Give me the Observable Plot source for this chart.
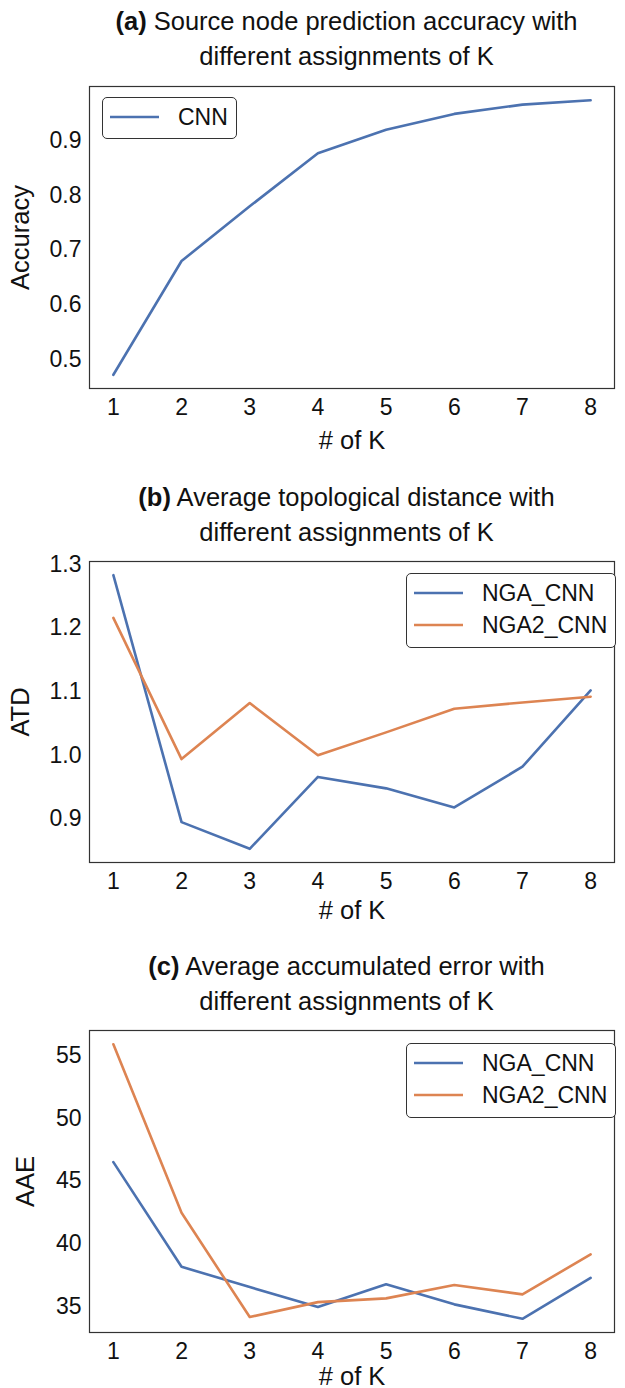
<!DOCTYPE html>
<html><head><meta charset="utf-8">
<script src="https://cdn.jsdelivr.net/npm/d3@7"></script>
<script src="https://cdn.jsdelivr.net/npm/@observablehq/plot@0.6"></script>
<style>
body{margin:0;background:#fff;font-family:"Liberation Sans",Arial,sans-serif;color:#111;}
#root{position:relative;width:625px;height:1388px;overflow:hidden;background:#fff;}
.title{position:absolute;left:75px;width:543px;text-align:center;font-size:25.5px;line-height:35px;white-space:nowrap;}
.title b{font-weight:bold;}
.plot{position:absolute;left:0;}
.legend{position:absolute;border:1.2px solid #333;border-radius:5px;background:#fff;box-sizing:border-box;font-size:23px;}
.legend .row{position:absolute;left:0;display:flex;align-items:center;}
</style>
</head><body>
<div id="root"></div>
<script>
const K = [1, 2, 3, 4, 5, 6, 7, 8];
const accCNN = [0.472, 0.680, 0.780, 0.877, 0.920, 0.949, 0.966, 0.974];
const atdNGA = [1.283, 0.895, 0.853, 0.966, 0.948, 0.918, 0.982, 1.102];
const atdNGA2 = [1.216, 0.994, 1.082, 1.000, 1.036, 1.073, 1.083, 1.092];
const aaeNGA = [46.52, 38.16, 36.54, 34.95, 36.76, 35.16, 34.01, 37.28];
const aaeNGA2 = [55.93, 42.47, 34.15, 35.34, 35.64, 36.70, 35.96, 39.15];
const accTicks = [0.5, 0.6, 0.7, 0.8, 0.9];
const atdTicks = [0.9, 1.0, 1.1, 1.2, 1.3];
const aaeTicks = [35, 40, 45, 50, 55];
const titles = [
  ["(a)", " Source node prediction accuracy with", "different assignments of K"],
  ["(b)", " Average topological distance with", "different assignments of K"],
  ["(c)", " Average accumulated error with", "different assignments of K"]
];
const blue = "#4c72b0", orange = "#dd8452";
const FONT = "'Liberation Sans', Arial, sans-serif";

const root = document.getElementById("root");

function pad(vals) {
  const [lo, hi] = d3.extent(vals);
  const m = (hi - lo) * 0.05;
  return [lo - m, hi + m];
}

function panel({top, series, ticks, fmt, ylabel, ylabelOffset, marginBottom, frameH, xlabelOffset}) {
  const all = series.flatMap(s => s.values);
  const marks = [
    Plot.axisX({ticks: K, tickSize: 0, tickPadding: 10, tickFormat: d3.format("d"), fontSize: 23, label: null}),
    Plot.axisX({ticks: [], tickSize: 0, label: "# of K", labelAnchor: "center", labelOffset: xlabelOffset, labelArrow: "none", fontSize: 25.5}),
    Plot.axisY({ticks, tickSize: 0, tickPadding: 8, tickFormat: d3.format(fmt), fontSize: 23, label: null}),
    Plot.axisY({ticks: [], tickSize: 0, label: ylabel, labelAnchor: "center", labelOffset: ylabelOffset, labelArrow: "none", fontSize: 25.5}),
    ...series.map(s => Plot.line(K.map((k, i) => ({k, v: s.values[i]})),
      {x: "k", y: "v", stroke: s.color, strokeWidth: 2.6})),
    Plot.frame({stroke: "#333", strokeWidth: 1.2})
  ];
  const p = Plot.plot({
    width: 625, height: 16 + frameH + marginBottom,
    marginLeft: 89, marginRight: 11, marginTop: 16, marginBottom,
    x: {domain: [0.65, 8.35]},
    y: {domain: pad(all)},
    style: {fontFamily: FONT, fontSize: "23px", color: "#111", background: "transparent", overflow: "visible"},
    marks
  });
  p.classList.add("plot");
  p.style.top = top + "px";
  root.appendChild(p);
}

function title(i, top) {
  const d = document.createElement("div");
  d.className = "title";
  d.style.top = top + "px";
  d.innerHTML = `<b>${titles[i][0]}</b>${titles[i][1]}<br>${titles[i][2]}`;
  root.appendChild(d);
}

function legend(items, left, top, w, h) {
  const d = document.createElement("div");
  d.className = "legend";
  Object.assign(d.style, {left: left + "px", top: top + "px", width: w + "px", height: h + "px"});
  items.forEach((it, j) => {
    const r = document.createElement("div");
    r.className = "row";
    r.style.top = (j * 32 + 4) + "px";
    r.style.height = "30px";
    r.innerHTML = `<svg width="75" height="30"><line x1="7" x2="56" y1="15" y2="15" stroke="${it.color}" stroke-width="2.6"/></svg><span>${it.name}</span>`;
    d.appendChild(r);
  });
  root.appendChild(d);
}

title(0, 4);
panel({top: 70, series: [{values: accCNN, color: blue}], ticks: accTicks, fmt: ".1f",
  ylabel: "Accuracy", ylabelOffset: 79, marginBottom: 80, frameH: 302, xlabelOffset: 60});
legend([{name: "CNN", color: blue}], 102, 97, 135, 42);

title(1, 480);
panel({top: 545, series: [{values: atdNGA, color: blue}, {values: atdNGA2, color: orange}], ticks: atdTicks, fmt: ".1f",
  ylabel: "ATD", ylabelOffset: 79, marginBottom: 80, frameH: 301, xlabelOffset: 56});
legend([{name: "NGA_CNN", color: blue}, {name: "NGA2_CNN", color: orange}], 406, 573, 210, 75);

title(2, 949);
panel({top: 1014, series: [{values: aaeNGA, color: blue}, {values: aaeNGA2, color: orange}], ticks: aaeTicks, fmt: "d",
  ylabel: "AAE", ylabelOffset: 74, marginBottom: 58, frameH: 302, xlabelOffset: 52});
legend([{name: "NGA_CNN", color: blue}, {name: "NGA2_CNN", color: orange}], 406, 1043, 210, 75);
</script>
</body></html>
